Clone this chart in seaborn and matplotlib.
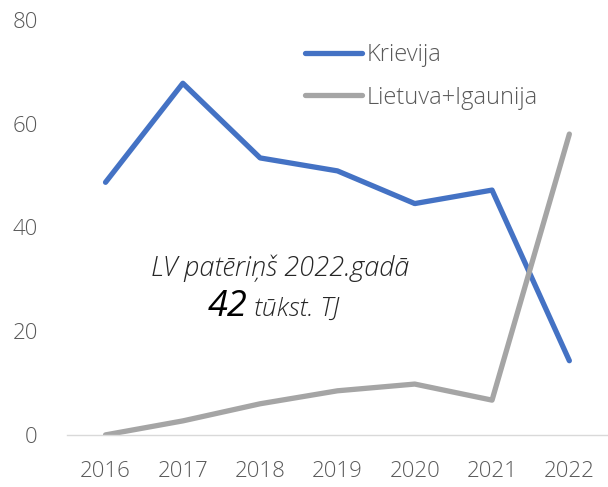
import pandas as pd
import matplotlib.pyplot as plt
import seaborn as sns

# dati
gadi = ['2016', '2017', '2018', '2019', '2020', '2021', '2022']
krievija = [48.7, 67.8, 53.4, 50.9, 44.6, 47.2, 14.3]
lietuva_igaunija = [0.0, 2.7, 6.0, 8.5, 9.8, 6.7, 58.0]

df = pd.DataFrame({
    'Gads': gadi * 2,
    'Vertiba': krievija + lietuva_igaunija,
    'Valsts': ['Krievija'] * len(gadi) + ['Lietuva+Igaunija'] * len(gadi),
})

sns.set_style('white')
plt.rcParams['font.family'] = ['Open Sans', 'DejaVu Sans']

fig = plt.figure(figsize=(6.08, 4.87), dpi=100)
ax = fig.add_axes([0.110, 0.107, 0.890, 0.852])

sns.lineplot(data=df, x='Gads', y='Vertiba', hue='Valsts',
             palette={'Krievija': '#4472C4', 'Lietuva+Igaunija': '#A5A5A5'},
             linewidth=3.8, ax=ax, sort=False)

ax.set_xlim(-0.5, 6.5)
ax.set_ylim(0, 80)
ax.set_yticks([0, 20, 40, 60, 80])
ax.set_xlabel('')
ax.set_ylabel('')
for s in ['top', 'right', 'left']:
    ax.spines[s].set_visible(False)
ax.spines['bottom'].set_color('#D9D9D9')
ax.spines['bottom'].set_linewidth(1)
ax.tick_params(axis='both', length=0, labelsize=16, colors='#595959')
ax.tick_params(axis='x', pad=19)
ax.tick_params(axis='y', pad=21)
for t in ax.get_xticklabels() + ax.get_yticklabels():
    t.set_fontweight('light')

leg = ax.legend(loc='upper left', bbox_to_anchor=(0.5016, 0.912),
                bbox_transform=fig.transFigure, frameon=False,
                borderpad=0, borderaxespad=0,
                fontsize=17, handlelength=2.4, labelspacing=0.8,
                handletextpad=0.2)
for t in leg.get_texts():
    t.set_color('#595959')
    t.set_fontweight('light')
for l in leg.get_lines():
    l.set_linewidth(3.8)
    l.set_solid_capstyle('round')

ax.text(2.263, 30.6, 'LV patēriņš 2022.gadā', ha='center', va='baseline',
        fontsize=19.5, style='italic', fontweight='light', color='#262626')
ax.text(1.836, 22.9, '42', ha='right', va='baseline', fontsize=26,
        style='italic', color='#000000')
ax.text(1.927, 22.9, 'tūkst. TJ', ha='left', va='baseline', fontsize=19,
        style='italic', fontweight='light', color='#262626')

plt.savefig('out.png', dpi=100)
